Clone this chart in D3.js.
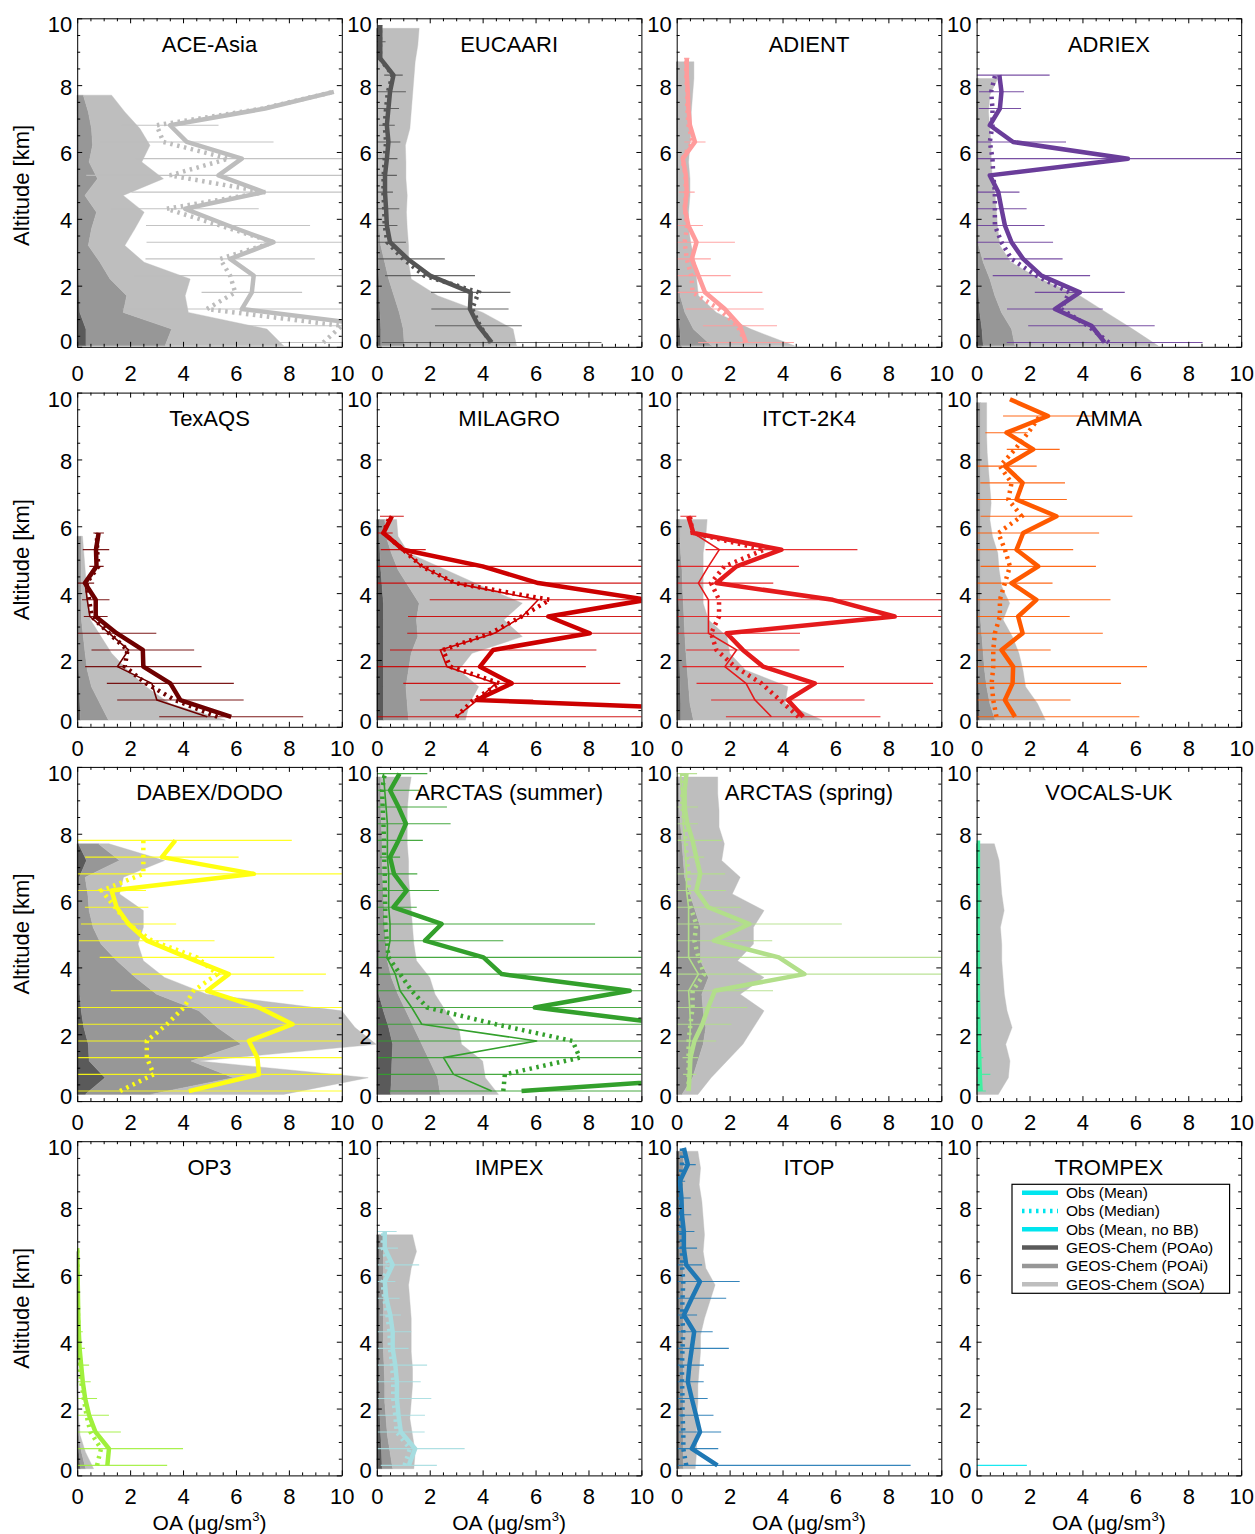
<!DOCTYPE html>
<html><head><meta charset="utf-8">
<script src="https://cdn.jsdelivr.net/npm/d3@7"></script>
<style>body{margin:0;background:#fff}</style>
</head><body>
<svg id="chart" width="1255" height="1534" xmlns="http://www.w3.org/2000/svg"></svg>
<script>
// ---------------- DATA ----------------
const LEVELS = [0.3,0.8,1.3,1.8,2.3,2.8,3.3,3.8,4.3,4.8,5.3,5.8,6.3,6.8,7.3,7.8,8.3,8.8,9.3,9.8];
const MODEL_LEVELS = [0.2,0.7,1.2,1.7,2.2,2.7,3.2,3.7,4.2,4.7,5.2,5.7,6.2,6.7,7.2,7.7,8.2,8.7,9.2,9.7];
const xTicks = [0,2,4,6,8,10];
const yTicks = [0,2,4,6,8,10];
const campaignNames = ["ACE-Asia","EUCAARI","ADIENT","ADRIEX","TexAQS","MILAGRO","ITCT-2K4","AMMA",
  "DABEX/DODO","ARCTAS (summer)","ARCTAS (spring)","VOCALS-UK","OP3","IMPEX","ITOP","TROMPEX"];
const campaignColors = ["#bdbdbd","#555555","#ff9b9b","#6a3d9a","#6e0000","#cc0000","#e41a1c","#ff5a00",
  "#ffff10","#33a02c","#b2df8a","#40f0a0","#a0f03c","#a6dde0","#1f78b4","#00e5ee"];
const legendLabels = ["Obs (Mean)","Obs (Median)","Obs (Mean, no BB)","GEOS-Chem (POAo)","GEOS-Chem (POAi)","GEOS-Chem (SOA)"];

// ACE-Asia
const aceMean   = [10.5,11.3,6.22,6.6,6.67,5.78,7.42,5.7,4.08,7.05,5.34,6.22,4.14,3.51,7.1,9.7];
const aceMedian = [9.3,10.0,4.9,5.97,5.78,5.4,7.42,5.4,3.38,7.1,3.5,5.72,3.26,3.0,7.0,9.7];
const aceSd     = [5,5,4.5,1.9,4.5,3.2,4.8,3.1,2.78,5,5,4,3.28,1.83,null,null];
const acePoao   = [0.33,0.33,0.1,0.08,0.05,0.04,0.03,0.03,0.02,0.02,0.02,0.02,0.02,0.02,0.01,0.01];
const acePoai   = [2.99,3.24,1.64,1.79,1.19,0.82,0.39,0.51,0.71,0.27,0.75,0.43,0.56,0.52,0.41,0.22];
const aceSoa    = [4.48,3.6,2.46,2.21,3.03,1.67,1.38,1.64,1.8,1.45,2.49,1.99,2.17,1.83,1.38,1.07];
// EUCAARI
const eucMean   = [4.34,3.84,3.52,3.55,2.01,1.17,0.5,0.38,0.35,0.31,0.31,0.38,0.44,0.38,0.44,0.5,0.63,0.13,0.13,0.13];
const eucMedian = [4.3,3.9,3.6,3.85,1.8,1.0,0.4,0.3,0.28,0.25,0.26,0.3,0.35,0.3,0.35,0.42,0.6,0.12,0.12,0.12];
const eucSd     = [4.15,1.64,1.46,1.5,1.7,1.4,0.6,0.4,0.5,0.3,0.45,0.4,0.45,0.3,0.4,0.6,0.35,null,0.2,null];
const eucPoao   = [0.15,0.15,0.12,0.1,0.08,0.06,0.04,0.03,0.02,0.02,0.02,0.02,0.02,0.02,0.02,0.02,0.02,0.02,0.02,0.02];
const eucPoai   = [0.89,0.85,0.73,0.55,0.37,0.24,0.11,0.07,0.06,0.05,0.04,0.04,0.04,0.03,0.03,0.03,0.03,0.03,0.03,0.03];
const eucSoa    = [4.24,4.15,3.15,1.65,0.85,0.9,1.05,1.05,1.04,1.08,1.04,1.04,1.02,1.2,1.25,1.3,1.35,1.4,1.5,1.55];
// ADIENT
const adiMean   = [2.62,2.39,1.82,1.07,0.82,0.57,0.75,0.44,0.31,0.38,0.35,0.23,0.69,0.5,0.44,0.42,0.38,0.38];
const adiMedian = [2.6,2.3,1.6,0.6,0.55,0.38,0.3,0.4,0.3,0.35,0.33,0.22,0.6,0.45,0.4,0.4,0.36,0.36];
const adiSd     = [1.81,1.4,1.47,2.17,1.22,0.72,1.45,0.55,null,0.3,null,null,0.4,null,null,null,null,0.1];
const adiPoao   = [0.15,0.12,0.05,0.03,0.02,0.02,0.02,0.02,0.02,0.02,0.02,0.02,0.02,0.02,0.02,0.02,0.02,0.02];
const adiPoai   = [1.17,0.51,0.26,0.1,0.06,0.04,0.03,0.03,0.03,0.03,0.03,0.03,0.03,0.03,0.03,0.03,0.03,0.03];
const adiSoa    = [3.13,2.17,1.19,0.69,0.67,0.64,0.5,0.4,0.4,0.45,0.45,0.4,0.45,0.5,0.5,0.55,0.6,0.6];
// ADRIEX
const adrMean   = [4.84,4.34,2.96,3.9,2.45,1.76,1.32,1.07,0.94,0.82,0.5,5.72,1.38,0.5,0.88,0.94,0.86];
const adrMedian = [5.0,4.2,3.2,3.5,2.26,1.32,0.94,0.69,0.69,0.69,0.63,0.6,0.5,0.6,0.6,0.55,0.7];
const adrSd     = [3.7,2.39,1.81,1.7,1.84,1.49,1.57,1.5,0.95,0.8,null,6,2.0,null,0.8,0.85,1.9];
const adrPoao   = [0.25,0.2,0.12,0.08,0.03,0.03,0.03,0.03,0.03,0.03,0.03,0.03,0.03,0.03,0.03,0.03,0.03];
const adrPoai   = [1.2,1.12,0.82,0.61,0.47,0.22,0.05,0.05,0.05,0.05,0.05,0.05,0.05,0.05,0.05,0.05,0.05];
const adrSoa    = [5.41,4.58,3.96,3.21,1.9,1.05,0.8,0.72,0.67,0.62,0.52,0.47,0.47,0.42,0.37,0.42,0.72];
// TexAQS
const texMean   = [5.82,3.9,3.52,2.5,2.48,1.49,0.7,0.7,0.29,0.73,0.71,0.81];
const texMedian = [5.3,3.7,2.6,1.8,1.9,1.2,0.55,0.45,0.35,0.8,0.75,0.75];
const texNobb   = [4.91,3.01,2.82,1.52,1.94,1.2,0.48,0.38,0.3,0.75,0.75,0.8];
const texSd     = [2.72,2.39,2.4,2.2,1.94,1.5,0.45,0.52,0.35,0.27,0.5,0.2];
const texPoao   = [0.12,0.1,0.08,0.06,0.05,0.04,0.03,0.03,0.03,0.03,0.03,0.03];
const texPoai   = [1.06,0.76,0.46,0.32,0.25,0.19,0.13,0.13,0.12,0.12,0.12,0.12];
const texSoa    = [4.42,2.64,2.06,1.52,1.0,0.67,0.34,0.24,0.2,0.15,0.1,0.05];
// MILAGRO
const milMean   = [20,3.77,5.1,3.9,4.4,8.05,6.48,10.2,6.1,4.0,1.0,0.25,0.57];
const milMedian = [3.0,3.65,4.65,2.77,2.5,4.3,5.47,6.54,2.96,1.7,1.0,0.25,0.5];
const milNobb   = [3.0,3.8,4.5,2.65,2.4,4.45,5.5,6.1,2.95,1.7,1.0,0.25,0.55];
const milSd     = [21,2.14,4.1,4.0,3.9,6.9,5.3,8.2,7,7,0.85,0.35,0.45];
const milPoao   = [0.25,0.25,0.25,0.25,0.25,0.25,0.25,0.25,0.2,0.15,0.12,0.1,0.1];
const milPoai   = [0.95,0.9,0.85,0.95,1.05,1.3,1.25,1.35,1.0,0.65,0.43,0.25,0.2];
const milSoa    = [2.15,2.35,2.75,1.9,2.3,3.95,3.3,3.9,2.8,1.8,0.65,0.45,0.45];
// ITCT-2K4
const itcMean   = [4.78,4.2,5.22,3.27,2.5,1.89,8.24,5.9,1.5,2.26,3.96,0.63,0.44];
const itcMedian = [4.6,3.9,3.2,2.2,1.5,1.3,1.6,1.6,1.3,1.8,3.3,0.6,0.5];
const itcNobb   = [3.58,2.96,2.62,1.82,2.26,1.2,1.2,1.2,0.82,1.2,1.61,0.63,0.44];
const itcSd     = [2.92,2.9,4.47,3.05,2.14,2.77,8.3,6,2.15,2.36,2.87,null,0.3];
const itcPoao   = [0.15,0.15,0.13,0.12,0.1,0.1,0.1,0.08,0.08,0.08,0.07,0.07,0.07];
const itcPoai   = [0.48,0.35,0.32,0.28,0.25,0.21,0.18,0.17,0.14,0.12,0.08,0.05,0.05];
const itcSoa    = [4.87,3.6,3.75,2.2,1.65,1.59,0.92,0.75,0.78,0.8,0.85,0.98,1.03];
// AMMA
const ammMean   = [1.45,1.07,1.36,1.38,0.94,1.74,1.57,2.26,1.32,2.33,1.51,1.76,3.02,1.51,1.74,1.07,2.14,1.13,2.7,1.26];
const ammMedian = [0.75,0.63,0.57,0.63,0.63,0.69,0.88,0.88,1.07,1.26,1.07,0.82,1.7,1.2,1.32,0.88,1.45,1.95,2.39,null];
const ammSd     = [4.7,2.48,4.1,5.06,1.86,3.03,1.95,2.8,1.55,2.18,2.14,2.87,2.87,1.9,1.6,1.2,1.0,0.8,1.7,null];
const ammPoao   = [0.12,0.1,0.08,0.06,0.05,0.05,0.05,0.05,0.05,0.05,0.05,0.05,0.05,0.05,0.05,0.05,0.05,0.05,0.05,0.05];
const ammPoai   = [0.58,0.4,0.3,0.24,0.2,0.15,0.1,0.1,0.1,0.1,0.1,0.1,0.1,0.1,0.1,0.1,0.1,0.1,0.1,0.1];
const ammSoa    = [1.9,1.8,1.47,1.45,1.35,1.15,0.85,1.1,0.8,0.7,0.65,0.45,0.35,0.4,0.35,0.3,0.25,0.23,0.23,0.23];
// DABEX/DODO
const dabMean   = [4.22,6.87,6.81,6.49,8.14,6.87,4.91,5.73,4.15,2.63,1.94,1.49,1.3,6.68,3.2,3.71];
const dabMedian = [1.62,2.89,2.63,2.63,3.39,4.03,4.4,5.29,4.53,2.82,1.94,1.43,0.92,2.5,2.5,2.5];
const dabSd     = [6,7,7,7,8.2,7,3.64,3.67,3.3,2.56,1.8,1.2,1.3,7,2.9,4.4];
const dabPoao   = [0.3,1.05,0.45,0.42,0.25,0.15,0.1,0.1,0.08,0.08,0.06,0.06,0.06,0.08,0.35,0.05];
const dabPoai   = [2.46,4.85,3.85,5.78,5.05,4.45,2.9,2.1,1.42,0.82,0.54,0.39,0.34,0.22,1.25,0.75];
const dabSoa    = [5.04,5.1,0.3,5.1,5.2,5.4,1.9,1.1,1.0,1.4,1.9,2.05,1.2,1.45,1.7,0.4];
// ARCTAS (summer)
const arsMean   = [5.47,14.5,12,12,11.1,5.97,9.56,4.72,4.03,1.82,2.45,0.63,1.13,0.65,0.5,0.82,1.1,0.82,0.5,0.86];
const arsMedian = [4.78,4.84,7.67,7.4,4.5,1.9,1.32,0.88,0.44,0.38,0.32,0.32,0.3,0.3,0.28,0.27,0.25,0.22,0.2,0.3];
const arsNobb   = [4.34,2.9,2.52,6.04,1.7,1.32,0.88,0.7,0.38,0.5,0.5,0.45,0.45,0.45,0.4,0.4,0.4,0.35,0.3,0.25];
const arsSd     = [5,15,12.5,12.5,11.5,6.5,10,6,6,2.96,5.8,0.88,1.22,0.88,0.38,0.92,1.69,1.83,1.1,1.05];
const arsPoao   = [0.52,0.55,0.57,0.6,0.45,0.25,0.08,0.08,0.08,0.08,0.06,0.06,0.06,0.06,0.05,0.05,0.05,0.05,0.05,0.05];
const arsPoai   = [1.88,1.75,1.43,1.1,0.95,0.85,0.72,0.47,0.32,0.27,0.24,0.22,0.19,0.16,0.15,0.15,0.13,0.1,0.1,0.1];
const arsSoa    = [2.2,1.8,2.0,1.5,1.7,1.5,1.4,1.45,1.1,1.05,1.05,1.02,1.0,0.98,1.0,0.95,0.97,1.0,1.05,1.15];
// ARCTAS (spring)
const arpMean   = [0.45,0.49,0.52,0.67,0.97,1.19,1.44,4.83,3.86,1.41,2.75,1.19,0.74,0.89,0.74,0.6,0.4,0.3,0.3,0.37];
const arpMedian = [0.45,0.45,0.45,0.45,0.52,0.6,0.6,1.04,0.82,0.67,0.74,0.52,0.45,0.45,0.37,0.34,0.3,0.22,0.22,0.22];
const arpNobb   = [0.45,0.45,0.45,0.49,0.52,0.49,0.45,0.82,0.45,0.45,0.45,0.45,0.37,0.37,0.34,0.3,0.25,0.22,0.19,0.15];
const arpSd     = [null,0.25,0.3,0.82,1.1,1.48,2.2,6,6.2,2.2,3.49,1.23,1.12,0.94,0.3,1.1,0.4,0.5,null,0.4];
const arpPoao   = [0.05,0.05,0.05,0.05,0.05,0.05,0.05,0.05,0.05,0.05,0.05,0.05,0.05,0.05,0.05,0.05,0.05,0.05,0.05,0.05];
const arpPoai   = [0.15,0.55,0.75,0.95,1.05,0.95,0.9,1.15,0.85,0.85,0.85,0.65,0.45,0.25,0.2,0.15,0.1,0.05,0.05,0.03];
const arpSoa    = [0.6,0.7,1.1,1.5,1.8,2.3,1.45,2.1,1.4,2.0,2.0,2.6,1.6,2.1,1.45,1.6,1.45,1.5,1.45,1.47];
// VOCALS-UK
const vocMean   = [0.15,0.12,0.1,0.08,0.07,0.06,0.05,0.05,0.05,0.05,0.05,0.05,0.05,0.05,0.05,0.05];
const vocMedian = [0.1,0.08,0.06,0.05,0.05,0.04,0.04,0.04,0.04,0.04,0.04,0.04,0.04,0.04,0.04,0.04];
const vocSd     = [0.2,0.4,0.15,null,null,null,null,null,null,null,null,null,null,null,null,null];
const vocPoao   = [0.02,0.02,0.02,0.02,0.02,0.02,0.02,0.02,0.02,0.02,0.02,0.02,0.02,0.02,0.02,0.02];
const vocPoai   = [0.03,0.03,0.03,0.03,0.03,0.03,0.03,0.03,0.03,0.03,0.03,0.03,0.03,0.03,0.03,0.03];
const vocSoa    = [0.77,1.15,1.21,1.05,1.29,1.1,1.0,0.95,0.9,0.9,0.85,0.99,0.9,0.85,0.8,0.62];
// OP3
const op3Mean   = [1.14,1.2,0.69,0.45,0.3,0.21,0.15,0.09,0.06,0.04,0.03,0.02,0.01,0.0];
const op3Median = [0.75,0.9,0.5,0.35,0.25,0.15,0.1,0.06,0.04,0.03,0.02,0.01,0.01,0.0];
const op3Sd     = [2.26,2.8,0.96,0.75,0.45,0.3,0.3,0.2,0.15,null,null,null,null,null];
const op3Poao   = [0.12,0.06,0.02,0.01,0.01,0,0,0,0,0,0,0,0,0];
const op3Poai   = [0.2,0.1,0.04,0.02,0.01,0,0,0,0,0,0,0,0,0];
const op3Soa    = [0.3,0.15,0.05,0.03,0.02,0.01,0,0,0,0,0,0,0,0];
// IMPEX
const impMean   = [1.21,1.45,0.91,0.82,0.76,0.76,0.7,0.6,0.6,0.51,0.36,0.3,0.6,0.3,0.3];
const impMedian = [1.05,1.25,0.75,0.7,0.62,0.62,0.58,0.5,0.48,0.4,0.28,0.22,0.45,0.22,0.25];
const impSd     = [1.06,1.87,0.9,1.0,1.3,0.9,1.2,0.6,0.7,0.4,0.5,0.4,1.0,0.5,0.45];
const impPoao   = [0.2,0.18,0.15,0.12,0.1,0.1,0.1,0.1,0.1,0.1,0.1,0.1,0.1,0.1,0.1];
const impPoai   = [0.4,0.32,0.25,0.23,0.2,0.2,0.18,0.15,0.15,0.15,0.15,0.15,0.15,0.15,0.15];
const impSoa    = [0.8,0.95,0.95,0.9,1.0,1.05,1.07,1.05,1.05,1.05,1.0,0.95,1.05,1.25,1.1];
// ITOP
const itoMean   = [1.54,0.57,0.88,0.73,0.57,0.42,0.48,0.57,0.66,0.27,0.57,0.88,0.36,0.27,0.27,0.2,0.18,0.12,0.42,0.27];
const itoMedian = [0.36,0.25,0.25,0.22,0.22,0.2,0.2,0.22,0.25,0.2,0.22,0.25,0.2,0.2,0.18,0.18,0.15,0.12,0.2,0.2];
const itoSd     = [7.3,1.0,0.8,0.66,0.6,0.6,0.55,1.4,0.7,0.5,1.3,1.5,0.6,0.5,0.4,0.35,0.35,0.2,0.3,null];
const itoPoao   = [0.1,0.1,0.1,0.1,0.1,0.1,0.1,0.1,0.1,0.1,0.1,0.1,0.1,0.1,0.1,0.1,0.1,0.1,0.1,0.1];
const itoPoai   = [0.15,0.15,0.15,0.15,0.15,0.15,0.15,0.15,0.15,0.15,0.15,0.15,0.15,0.15,0.15,0.15,0.15,0.15,0.15,0.15];
const itoSoa    = [0.45,0.5,0.5,0.5,0.55,0.55,0.6,0.65,0.65,0.8,1.0,1.2,0.85,0.75,0.8,0.75,0.7,0.6,0.65,0.55];
// TROMPEX
const troMean   = [0.95];
const troSd     = [0.95];

const panels = [
  {mean: aceMean, median: aceMedian, nobb: null, sd: aceSd, poao: acePoao, poai: acePoai, soa: aceSoa},
  {mean: eucMean, median: eucMedian, nobb: null, sd: eucSd, poao: eucPoao, poai: eucPoai, soa: eucSoa},
  {mean: adiMean, median: adiMedian, nobb: null, sd: adiSd, poao: adiPoao, poai: adiPoai, soa: adiSoa},
  {mean: adrMean, median: adrMedian, nobb: null, sd: adrSd, poao: adrPoao, poai: adrPoai, soa: adrSoa},
  {mean: texMean, median: texMedian, nobb: texNobb, sd: texSd, poao: texPoao, poai: texPoai, soa: texSoa},
  {mean: milMean, median: milMedian, nobb: milNobb, sd: milSd, poao: milPoao, poai: milPoai, soa: milSoa},
  {mean: itcMean, median: itcMedian, nobb: itcNobb, sd: itcSd, poao: itcPoao, poai: itcPoai, soa: itcSoa},
  {mean: ammMean, median: ammMedian, nobb: null, sd: ammSd, poao: ammPoao, poai: ammPoai, soa: ammSoa},
  {mean: dabMean, median: dabMedian, nobb: null, sd: dabSd, poao: dabPoao, poai: dabPoai, soa: dabSoa},
  {mean: arsMean, median: arsMedian, nobb: arsNobb, sd: arsSd, poao: arsPoao, poai: arsPoai, soa: arsSoa},
  {mean: arpMean, median: arpMedian, nobb: arpNobb, sd: arpSd, poao: arpPoao, poai: arpPoai, soa: arpSoa},
  {mean: vocMean, median: vocMedian, nobb: null, sd: vocSd, poao: vocPoao, poai: vocPoai, soa: vocSoa},
  {mean: op3Mean, median: op3Median, nobb: null, sd: op3Sd, poao: op3Poao, poai: op3Poai, soa: op3Soa},
  {mean: impMean, median: impMedian, nobb: null, sd: impSd, poao: impPoao, poai: impPoai, soa: impSoa},
  {mean: itoMean, median: itoMedian, nobb: null, sd: itoSd, poao: itoPoao, poai: itoPoai, soa: itoSoa},
  {mean: troMean, median: null, nobb: null, sd: troSd, poao: null, poai: null, soa: null}
];

// ---------------- LAYOUT / STYLE ----------------
const FONT = '"Liberation Sans", Arial, Helvetica, sans-serif';
const W = 264.6, PXK = 33.42;
const COL_X = [77.2, 376.8, 676.7, 976.6];
const ROW_TOP = [18.3, 392.6, 766.9, 1141.2];
const AXIS_BOTTOM_ALT = [0.17, 0, 0, 0];
const MODEL_FILL = {poao: "#5a5a5a", poai: "#979797", soa: "#bebebe"};
const LEGEND_COLOR = "#00e5ee";

const svg = d3.select("#chart");
svg.append("rect").attr("width",1255).attr("height",1534).attr("fill","#fff");

const x = d3.scaleLinear().domain([0,10]).range([0,W]);
const y = d3.scaleLinear().domain([0,10]).range([10*PXK,0]);
const xMinor = d3.range(0.5,10,0.5).filter(v => v % 2 !== 0);

panels.forEach((p, i) => {
  const r = Math.floor(i/4), c = i % 4;
  const color = campaignColors[i];
  const g = svg.append("g").attr("transform", `translate(${COL_X[c]},${ROW_TOP[r]})`);
  const bAlt = AXIS_BOTTOM_ALT[r];
  const yr = d3.scaleLinear().domain([bAlt,10]).range([y(bAlt),0]);
  const hb = y(bAlt);
  const clipId = "clip" + i;
  g.append("clipPath").attr("id", clipId).append("rect").attr("x",0).attr("y",0).attr("width",W).attr("height",hb);

  // model stacked areas
  if (p.soa) {
    const rows = p.soa.map((s,k) => ({alt: MODEL_LEVELS[k], poao: p.poao[k], poai: p.poai[k], soa: s}));
    const stacked = d3.stack().keys(["poao","poai","soa"])(rows);
    const area = d3.area().y(d => y(d.data.alt)).x0(d => x(d[0])).x1(d => x(d[1]));
    g.append("g").selectAll("path").data(stacked).join("path")
      .attr("d", area).attr("fill", d => MODEL_FILL[d.key])
      .attr("stroke", d => MODEL_FILL[d.key]).attr("stroke-width", 0.4);
  }

  const cg = g.append("g").attr("clip-path", `url(#${clipId})`);
  // error bars
  const bars = p.sd.map((s,k) => ({s, m: p.mean[k], alt: LEVELS[k]})).filter(d => d.s != null && d.m != null);
  cg.append("g").selectAll("line").data(bars).join("line")
    .attr("x1", d => x(Math.max(0, d.m - d.s))).attr("x2", d => x(d.m + d.s))
    .attr("y1", d => y(d.alt)).attr("y2", d => y(d.alt))
    .attr("stroke", color).attr("stroke-width", 1.1).attr("stroke-opacity", 0.9);

  const line = d3.line().defined(v => v != null).x(v => x(v)).y((v,k) => y(LEVELS[k]));
  if (p.median) cg.append("path").attr("d", line(p.median)).attr("fill","none")
      .attr("stroke", color).attr("stroke-width", 4.5).attr("stroke-dasharray","2.5,4.5");
  if (p.nobb) cg.append("path").attr("d", line(p.nobb)).attr("fill","none")
      .attr("stroke", color).attr("stroke-width", 1.6).attr("stroke-linejoin","round");
  if (p.mean.length > 1) cg.append("path").attr("d", line(p.mean)).attr("fill","none")
      .attr("stroke", color).attr("stroke-width", 4.5).attr("stroke-linejoin","round");

  // axes
  const styleAxis = sel => sel.attr("font-family", FONT).attr("font-size", 22)
      .call(s => s.selectAll("line").attr("stroke","#000"))
      .call(s => s.selectAll(".domain").attr("stroke","#000"));
  const bottom = g.append("g").attr("transform", `translate(0,${hb})`)
    .call(d3.axisBottom(x).tickValues(xTicks).tickSize(-5).tickSizeOuter(0).tickFormat(d3.format("d")))
    .call(styleAxis);
  bottom.selectAll("text").attr("y", y(0) - hb + 21).attr("dy","0.36em").attr("fill","#000");
  g.append("g").attr("transform", `translate(0,${hb})`)
    .call(d3.axisBottom(x).tickValues(xMinor).tickSize(-3).tickFormat(""))
    .call(styleAxis).call(s => s.select(".domain").remove());
  g.append("g").call(d3.axisTop(x).tickValues(xTicks).tickSize(-5).tickSizeOuter(0).tickFormat(""))
    .call(styleAxis);
  g.append("g").call(d3.axisTop(x).tickValues(xMinor).tickSize(-3).tickFormat(""))
    .call(styleAxis).call(s => s.select(".domain").remove());

  const yMajor = [bAlt].concat(yTicks.filter(v => v > 0));
  const yMinor = d3.range(0.5,10,0.5).filter(v => v % 2 !== 0 && v > bAlt);
  const left = g.append("g")
    .call(d3.axisLeft(yr).tickValues(yMajor).tickSize(-5).tickSizeOuter(0).tickFormat(v => v < 1 ? "0" : String(v)))
    .call(styleAxis);
  left.selectAll("text").attr("x", -5).attr("dy","0.36em").attr("fill","#000")
    .attr("y", v => v < 1 ? -6 : (v === 10 ? 5.5 : 1));
  g.append("g").call(d3.axisLeft(yr).tickValues(yMinor).tickSize(-3).tickFormat(""))
    .call(styleAxis).call(s => s.select(".domain").remove());
  g.append("g").attr("transform", `translate(${W},0)`)
    .call(d3.axisRight(yr).tickValues(yMajor).tickSize(-5).tickSizeOuter(0).tickFormat(""))
    .call(styleAxis);
  g.append("g").attr("transform", `translate(${W},0)`)
    .call(d3.axisRight(yr).tickValues(yMinor).tickSize(-3).tickFormat(""))
    .call(styleAxis).call(s => s.select(".domain").remove());

  // title
  g.append("text").attr("x", W/2).attr("y", 33.5).attr("text-anchor","middle")
    .attr("font-family", FONT).attr("font-size", 22).text(campaignNames[i]);

  if (c === 0) {
    svg.append("text").attr("transform", `translate(29,${ROW_TOP[r] + y(0)/2}) rotate(-90)`)
      .attr("text-anchor","middle").attr("font-family", FONT).attr("font-size", 22).text("Altitude [km]");
  }
  if (r === 3) {
    const t = svg.append("text").attr("x", COL_X[c] + W/2).attr("y", 1530).attr("text-anchor","middle")
      .attr("font-family", FONT).attr("font-size", 21);
    t.append("tspan").text("OA (μg/sm");
    t.append("tspan").attr("dy", -9).attr("font-size", 13).text("3");
    t.append("tspan").attr("dy", 9).text(")");
  }

  // legend in last panel
  if (i === 15) {
    const lg = g.append("g").attr("transform","translate(35.4,43.1)");
    lg.append("rect").attr("width",217.6).attr("height",109).attr("fill","#fff")
      .attr("stroke","#000").attr("stroke-width",1.2);
    const legendStyle = [
      {color: LEGEND_COLOR, dash: null}, {color: LEGEND_COLOR, dash: "2.5,4.5"}, {color: LEGEND_COLOR, dash: null},
      {color: MODEL_FILL.poao, dash: null}, {color: MODEL_FILL.poai, dash: null}, {color: MODEL_FILL.soa, dash: null}];
    const items = lg.selectAll("g.it").data(legendLabels).join("g").attr("class","it")
      .attr("transform", (d,k) => `translate(0,${8.4 + k*18.3})`);
    items.append("line").attr("x1",10).attr("x2",46).attr("y1",0).attr("y2",0)
      .attr("stroke", (d,k) => legendStyle[k].color).attr("stroke-width",4.5)
      .attr("stroke-dasharray", (d,k) => legendStyle[k].dash);
    items.append("text").attr("x",54).attr("y",0).attr("dy","0.35em")
      .attr("font-family", FONT).attr("font-size",15.5).text(d => d);
  }
});
</script>
</body></html>
